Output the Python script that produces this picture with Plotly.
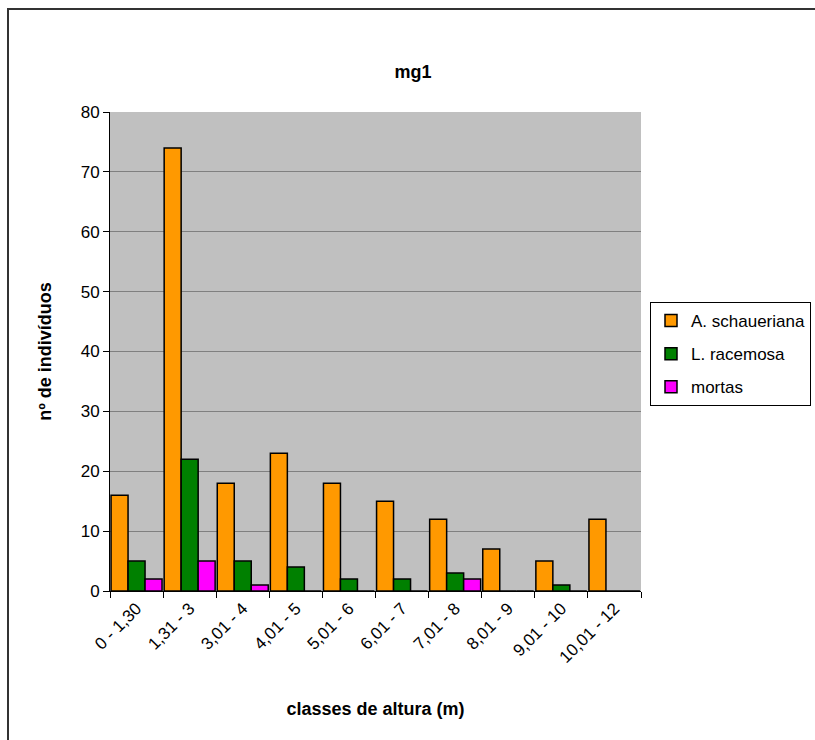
import plotly.graph_objects as go

# Height classes (m) and counts of individuals per class
classes = ["0 - 1,30", "1,31 - 3", "3,01 - 4", "4,01 - 5", "5,01 - 6",
           "6,01 - 7", "7,01 - 8", "8,01 - 9", "9,01 - 10", "10,01 - 12"]
a_schaueriana = [16, 74, 18, 23, 18, 15, 12, 7, 5, 12]
l_racemosa = [5, 22, 5, 4, 2, 2, 3, 0, 1, 0]
mortas = [2, 5, 1, 0, 0, 0, 2, 0, 0, 0]

series = [
    ("A. schaueriana", a_schaueriana, "#FF9900"),
    ("L. racemosa", l_racemosa, "#008000"),
    ("mortas", mortas, "#FF00FF"),
]

FONT = "Liberation Sans, Arial, sans-serif"

fig = go.Figure()
for i, (name, vals, color) in enumerate(series):
    fig.add_trace(go.Bar(
        x=classes, y=vals, name=name,
        marker=dict(color=color, line=dict(color="black", width=1.5)),
        legendgroup=f"g{i}",
    ))

W, H = 815, 740
L, R, T, B = 110, 174, 112, 149
pw, ph = W - L - R, H - T - B

def px_x(x):
    return (x - L) / pw

def px_y(y):
    return (H - B - y) / ph

fig.update_layout(
    width=W, height=H,
    margin=dict(l=L, r=R, t=T, b=B, autoexpand=False),
    paper_bgcolor="white",
    plot_bgcolor="#C0C0C0",
    font=dict(family=FONT, size=17, color="black"),
    barmode="group",
    bargap=0.04,
    bargroupgap=0,
    title=dict(text="<b>mg1</b>", x=413 / W, xanchor="center",
               y=1 - 72 / H, yanchor="middle",
               font=dict(family=FONT, size=18)),
    legend=dict(
        x=px_x(650), y=px_y(302), xanchor="left", yanchor="top",
        bgcolor="white", bordercolor="black", borderwidth=1,
        font=dict(family=FONT, size=17),
        traceorder="grouped", tracegroupgap=8,
        itemwidth=30,
    ),
    xaxis=dict(
        type="category",
        tickangle=-45,
        ticks="outside", ticklen=6, tickcolor="black",
        tickson="boundaries",
        showline=True, linecolor="black", linewidth=1,
        showgrid=False,
        tickfont=dict(family=FONT, size=17),
        title=dict(text="<b>classes de altura (m)</b>", standoff=36,
                   font=dict(family=FONT, size=18)),
    ),
    yaxis=dict(
        range=[0, 80], dtick=10,
        ticks="outside", ticklen=6, tickcolor="black",
        showline=True, linecolor="black", linewidth=1,
        showgrid=True, gridcolor="#808080", gridwidth=1,
        zeroline=False,
        tickfont=dict(family=FONT, size=17),
        title=dict(text="<b>nº de indivíduos</b>", standoff=24,
                   font=dict(family=FONT, size=18)),
    ),
    shapes=[
        # chart-area frame
        dict(type="rect", xref="paper", yref="paper",
             x0=px_x(8), x1=px_x(830), y0=px_y(760), y1=px_y(9),
             line=dict(color="#333333", width=2), fillcolor="rgba(0,0,0,0)",
             layer="below"),
    ],
)

fig.write_html("out.html")
